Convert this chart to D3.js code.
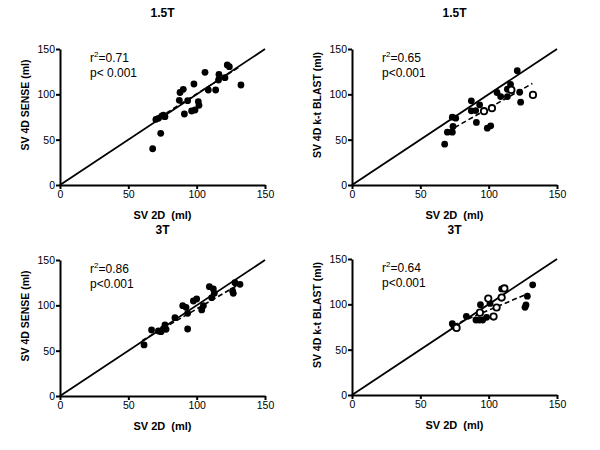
<!DOCTYPE html>
<html>
<head>
<meta charset="utf-8">
<title>SV 4D vs SV 2D</title>
<script src="https://d3js.org/d3.v7.min.js"></script>
<style>
  body { margin: 0; background: #fff; }
  svg { font-family: "Liberation Sans", Arial, sans-serif; }
  svg text { fill: #000; }
  .axis path, .axis line { stroke: #000; stroke-width: 2px; }
  .axis text { font-size: 10.5px; fill: #000; }
</style>
</head>
<body>
<div id="chart"></div>
<script>
const ticks = [0, 50, 100, 150];

// 1.5T SENSE
const sense15X = [67.8, 73.7, 70.2, 72, 74.4, 75.6, 76.8, 87.3, 87.8, 90.2, 91, 93.4, 98, 96.3, 98.8, 101.2, 101.7, 106.1, 108.5, 113.9, 116.3, 116, 120.7, 122.4, 123.9, 132.4];
const sense15Y = [40, 57, 72.4, 73.5, 76, 77, 75.4, 93.4, 102, 105.5, 78.3, 93, 111.4, 81.6, 82.7, 92, 87.9, 124.3, 104.8, 104.8, 122, 115.8, 118.4, 132.4, 130.5, 110.3];
const sense15Fit = [[68, 70], [132, 131]];

// 1.5T k-t BLAST
const blast15X = [67.8, 69.8, 73.4, 73.9, 73.4, 75.9, 87.3, 87.3, 90.5, 91, 93.4, 99, 101.5, 106.1, 108.8, 113.7, 113.7, 116, 120.9, 122.7, 123.4];
const blast15Y = [45, 58.3, 58.3, 64.5, 74.8, 73.7, 92.8, 81.8, 82.1, 69, 88.4, 62.7, 65.3, 102, 97.5, 97.5, 105.6, 111, 126, 102.3, 91.3];
const blast15OpenX = [96.6, 102.4, 116.6, 132.4];
const blast15OpenY = [81.4, 84.7, 104.9, 99.4];
const blast15Fit = [[70, 59], [132, 112]];

// 3T SENSE
const sense3X = [61.5, 67, 72, 73.9, 75.6, 76.8, 77.6, 84.1, 89.8, 92.2, 93.4, 93.4, 97.6, 100, 103.7, 104.9, 109.3, 111, 112.2, 112.9, 126.3, 126.8, 128, 131.7];
const sense3Y = [56.3, 72.8, 71.7, 71, 73.9, 78.3, 73.5, 86.4, 99.6, 97.8, 91.2, 73.9, 104.8, 107, 94.9, 99.6, 120.6, 108.5, 118, 113.2, 115.8, 113.2, 125, 123.2];
const sense3Fit = [[60, 61], [132, 124]];

// 3T k-t BLAST
const blast3X = [73.4, 74.6, 83.7, 90.7, 93.1, 95.6, 98.5, 94, 101, 109.5, 132.2, 128.3, 127.3, 126.6];
const blast3Y = [78.7, 75.7, 86.8, 82.7, 82.7, 82.7, 85.7, 99.6, 101, 117, 121.5, 109, 99.3, 96.7];
const blast3OpenX = [76.5, 93.6, 99.7, 105.8, 103.6, 109.5, 111.5];
const blast3OpenY = [74, 90.8, 106.3, 96.5, 86.5, 107.5, 117.5];
const blast3Fit = [[74, 77], [129, 112]];

const panels = [
  { title: "1.5T", ylab: "SV 4D SENSE (ml)", r2: "0.71", p: "p< 0.001", xs: sense15X, ys: sense15Y, ox: [], oy: [], fit: sense15Fit, left: 60, top: 49, ty: 17 },
  { title: "1.5T", ylab: "SV 4D k-t BLAST (ml)", r2: "0.65", p: "p<0.001", xs: blast15X, ys: blast15Y, ox: blast15OpenX, oy: blast15OpenY, fit: blast15Fit, left: 352, top: 49, ty: 17 },
  { title: "3T", ylab: "SV 4D SENSE (ml)", r2: "0.86", p: "p<0.001", xs: sense3X, ys: sense3Y, ox: [], oy: [], fit: sense3Fit, left: 60, top: 260, ty: 234 },
  { title: "3T", ylab: "SV 4D k-t BLAST (ml)", r2: "0.64", p: "p<0.001", xs: blast3X, ys: blast3Y, ox: blast3OpenX, oy: blast3OpenY, fit: blast3Fit, left: 352, top: 259, ty: 234 }
];

const pw = 205, ph = 136;

const svg = d3.select("#chart").append("svg")
    .attr("width", 600)
    .attr("height", 450);

panels.forEach(p => {
  const x = d3.scaleLinear().domain([0, 150]).range([p.left, p.left + pw]);
  const y = d3.scaleLinear().domain([0, 150]).range([p.top + ph, p.top]);
  const g = svg.append("g");

  g.append("g")
      .attr("class", "axis")
      .attr("transform", `translate(0,${p.top + ph})`)
      .call(d3.axisBottom(x).tickValues(ticks).tickSize(4).tickSizeOuter(0).tickPadding(2));
  g.append("g")
      .attr("class", "axis")
      .attr("transform", `translate(${p.left},0)`)
      .call(d3.axisLeft(y).tickValues(ticks).tickSize(4).tickSizeOuter(0).tickPadding(1));

  // identity line
  g.append("line")
      .attr("x1", x(0)).attr("y1", y(0))
      .attr("x2", x(150)).attr("y2", y(150))
      .attr("stroke", "#000").attr("stroke-width", 1.8);

  // regression line
  g.append("line")
      .attr("x1", x(p.fit[0][0])).attr("y1", y(p.fit[0][1]))
      .attr("x2", x(p.fit[1][0])).attr("y2", y(p.fit[1][1]))
      .attr("stroke", "#000").attr("stroke-width", 1.6)
      .attr("stroke-dasharray", "5,3");

  g.selectAll(".dot")
    .data(p.xs.map((v, i) => [v, p.ys[i]]))
    .join("circle")
      .attr("cx", d => x(d[0]))
      .attr("cy", d => y(d[1]))
      .attr("r", 3.4)
      .attr("fill", "#000");

  g.selectAll(".open")
    .data(p.ox.map((v, i) => [v, p.oy[i]]))
    .join("circle")
      .attr("cx", d => x(d[0]))
      .attr("cy", d => y(d[1]))
      .attr("r", 3.2)
      .attr("fill", "#fff")
      .attr("stroke", "#000")
      .attr("stroke-width", 1.8);

  g.append("text")
      .attr("x", p.left + pw / 2)
      .attr("y", p.ty)
      .attr("text-anchor", "middle")
      .style("font-size", "12px").style("font-weight", "bold")
      .text(p.title);

  g.append("text")
      .attr("x", p.left + pw / 2)
      .attr("y", p.top + ph + 34)
      .attr("text-anchor", "middle")
      .style("font-size", "11px").style("font-weight", "bold")
      .attr("xml:space", "preserve")
      .text("SV 2D  (ml)");

  g.append("text")
      .attr("transform", `translate(${p.left - 31},${p.top + 56}) rotate(-90)`)
      .attr("text-anchor", "middle")
      .style("font-size", "10.5px").style("font-weight", "bold")
      .text(p.ylab);

  const t = g.append("text")
      .attr("x", p.left + 30)
      .attr("y", p.top + 13)
      .style("font-size", "12px");
  t.append("tspan").text("r");
  t.append("tspan").attr("dy", -5).style("font-size", "8px").text("2");
  t.append("tspan").attr("dy", 5).text("=" + p.r2);

  g.append("text")
      .attr("x", p.left + 30)
      .attr("y", p.top + 28)
      .style("font-size", "12px")
      .text(p.p);
});
</script>
</body>
</html>
